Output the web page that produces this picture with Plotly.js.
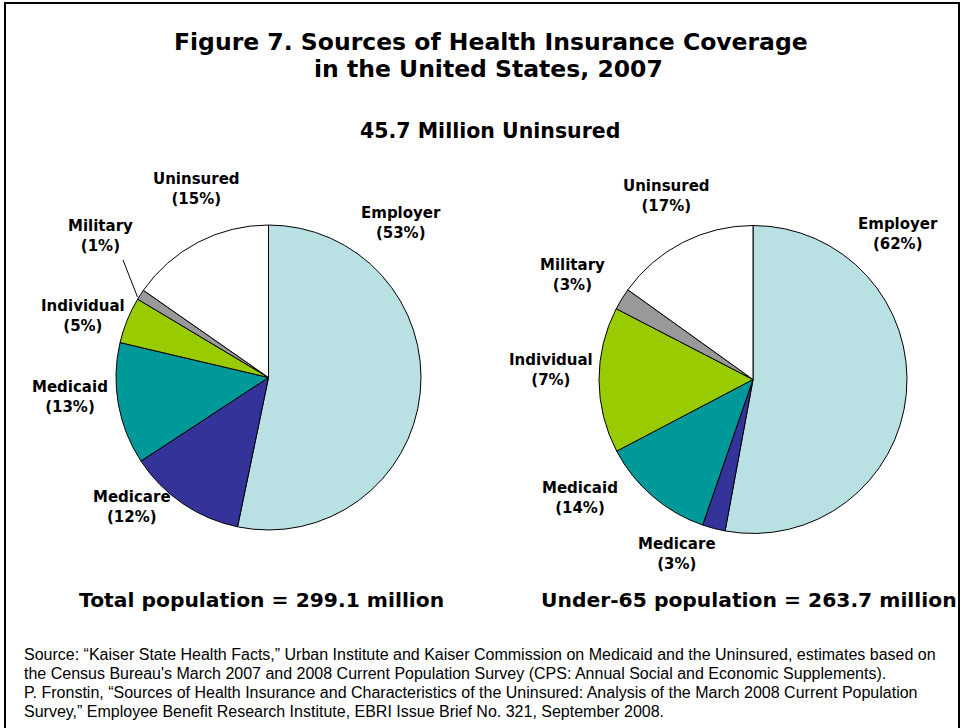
<!DOCTYPE html>
<html>
<head>
<meta charset="utf-8">
<script src="https://cdn.plot.ly/plotly-3.0.1.min.js"></script>
<style>
  html, body { margin: 0; padding: 0; background: #ffffff; }
  #chart { width: 963px; height: 728px; }
</style>
</head>
<body>
<div id="chart"></div>
<script>
// ---- Data ----
const categories = ["Employer", "Medicare", "Medicaid", "Individual", "Military", "Uninsured"];
// Slice sizes as drawn in the picture (percent of circle)
const totalSlices = [53.2, 12.5, 12.9, 4.9, 1.1, 15.3];
const under65Slices = [52.9, 2.4, 12.0, 15.3, 2.3, 15.1];
// Percentages printed on the labels
const totalLabels = ["53%", "12%", "13%", "5%", "1%", "15%"];
const under65Labels = ["62%", "3%", "14%", "7%", "3%", "17%"];
const sliceColors = ["#B9E0E3", "#333399", "#009999", "#99CC00", "#999999", "#FFFFFF"];

const titleLines = ["Figure 7. Sources of Health Insurance Coverage", "in the United States, 2007"];
const subtitle = "45.7 Million Uninsured";
const leftCaption = "Total population = 299.1 million";
const rightCaption = "Under-65 population = 263.7 million";
const sourceLines = [
  "Source: \u201cKaiser State Health Facts,\u201d Urban Institute and Kaiser Commission on Medicaid and the Uninsured, estimates based on",
  "the Census Bureau's March 2007 and 2008 Current Population Survey (CPS: Annual Social and Economic Supplements).",
  "P. Fronstin, \u201cSources of Health Insurance and Characteristics of the Uninsured: Analysis of the March 2008 Current Population",
  "Survey,\u201d Employee Benefit Research Institute, EBRI Issue Brief No. 321, September 2008."
];

// ---- Layout helpers ----
const W = 963, H = 728;
const px = x => x / W;
const py = y => 1 - y / H;

function pieDomain(cx, cy, r) {
  return { x: [px(cx - r), px(cx + r)], y: [py(cy + r), py(cy - r)] };
}

const pieCommon = {
  type: "pie",
  labels: categories,
  sort: false,
  direction: "clockwise",
  rotation: 0,
  textinfo: "none",
  hoverinfo: "label+percent",
  showlegend: false,
  marker: { colors: sliceColors, line: { color: "#000000", width: 1 } }
};

const traces = [
  Object.assign({}, pieCommon, { values: totalSlices, domain: pieDomain(268.5, 377.5, 152.5), name: "Total" }),
  Object.assign({}, pieCommon, { values: under65Slices, domain: pieDomain(753, 379.5, 154), name: "Under-65" })
];

const labelFont = { family: "DejaVu Sans, Verdana, sans-serif", size: 15, color: "#000000" };
const labelPosLeft = [[401, 223], [132, 507], [70, 397], [83, 316], [100, 236], [196, 189]];
const labelPosRight = [[898, 234], [677, 554], [580, 498], [551, 370], [572, 275], [666, 196]];

const annotations = [];
function addText(text, x, y, font, xanchor) {
  annotations.push({
    text: text, x: px(x), y: py(y), xref: "paper", yref: "paper",
    showarrow: false, xanchor: xanchor || "center", yanchor: "middle",
    align: xanchor === "left" ? "left" : "center", font: font
  });
}

categories.forEach((c, i) => {
  addText("<b>" + c + "</b><br><b>(" + totalLabels[i] + ")</b>", labelPosLeft[i][0], labelPosLeft[i][1], labelFont);
  addText("<b>" + c + "</b><br><b>(" + under65Labels[i] + ")</b>", labelPosRight[i][0], labelPosRight[i][1], labelFont);
});

const titleFont = { family: "DejaVu Sans, Verdana, sans-serif", size: 23.5, color: "#000000" };
addText("<b>" + titleLines[0] + "</b>", 491, 42, titleFont);
addText("<b>" + titleLines[1] + "</b>", 489, 69, titleFont);
addText("<b>" + subtitle + "</b>", 490, 131, { family: "DejaVu Sans, Verdana, sans-serif", size: 20.5, color: "#000000" });
const capFont = { family: "DejaVu Sans, Verdana, sans-serif", size: 20.3, color: "#000000" };
addText("<b>" + leftCaption + "</b>", 261, 600, capFont);
addText("<b>" + rightCaption + "</b>", 749, 600, capFont);

const srcFont = { family: "Liberation Sans, Arial, sans-serif", size: 16, color: "#000000" };
const srcY = [654, 673, 692, 711];
sourceLines.forEach((t, i) => addText(t, 22, srcY[i], srcFont, "left"));

const shapes = [
  { type: "rect", xref: "paper", yref: "paper", x0: px(5), x1: px(959), y0: py(3), y1: py(740),
    line: { color: "#000000", width: 2 }, fillcolor: "rgba(0,0,0,0)" },
  { type: "line", xref: "paper", yref: "paper", x0: px(123), y0: py(260), x1: px(137.5), y1: py(297),
    line: { color: "#000000", width: 1 } }
];

const layout = {
  width: W, height: H,
  margin: { l: 0, r: 0, t: 0, b: 0 },
  paper_bgcolor: "#ffffff",
  plot_bgcolor: "#ffffff",
  annotations: annotations,
  shapes: shapes,
  showlegend: false
};

Plotly.newPlot("chart", traces, layout, { displayModeBar: false, staticPlot: true });
</script>
</body>
</html>
